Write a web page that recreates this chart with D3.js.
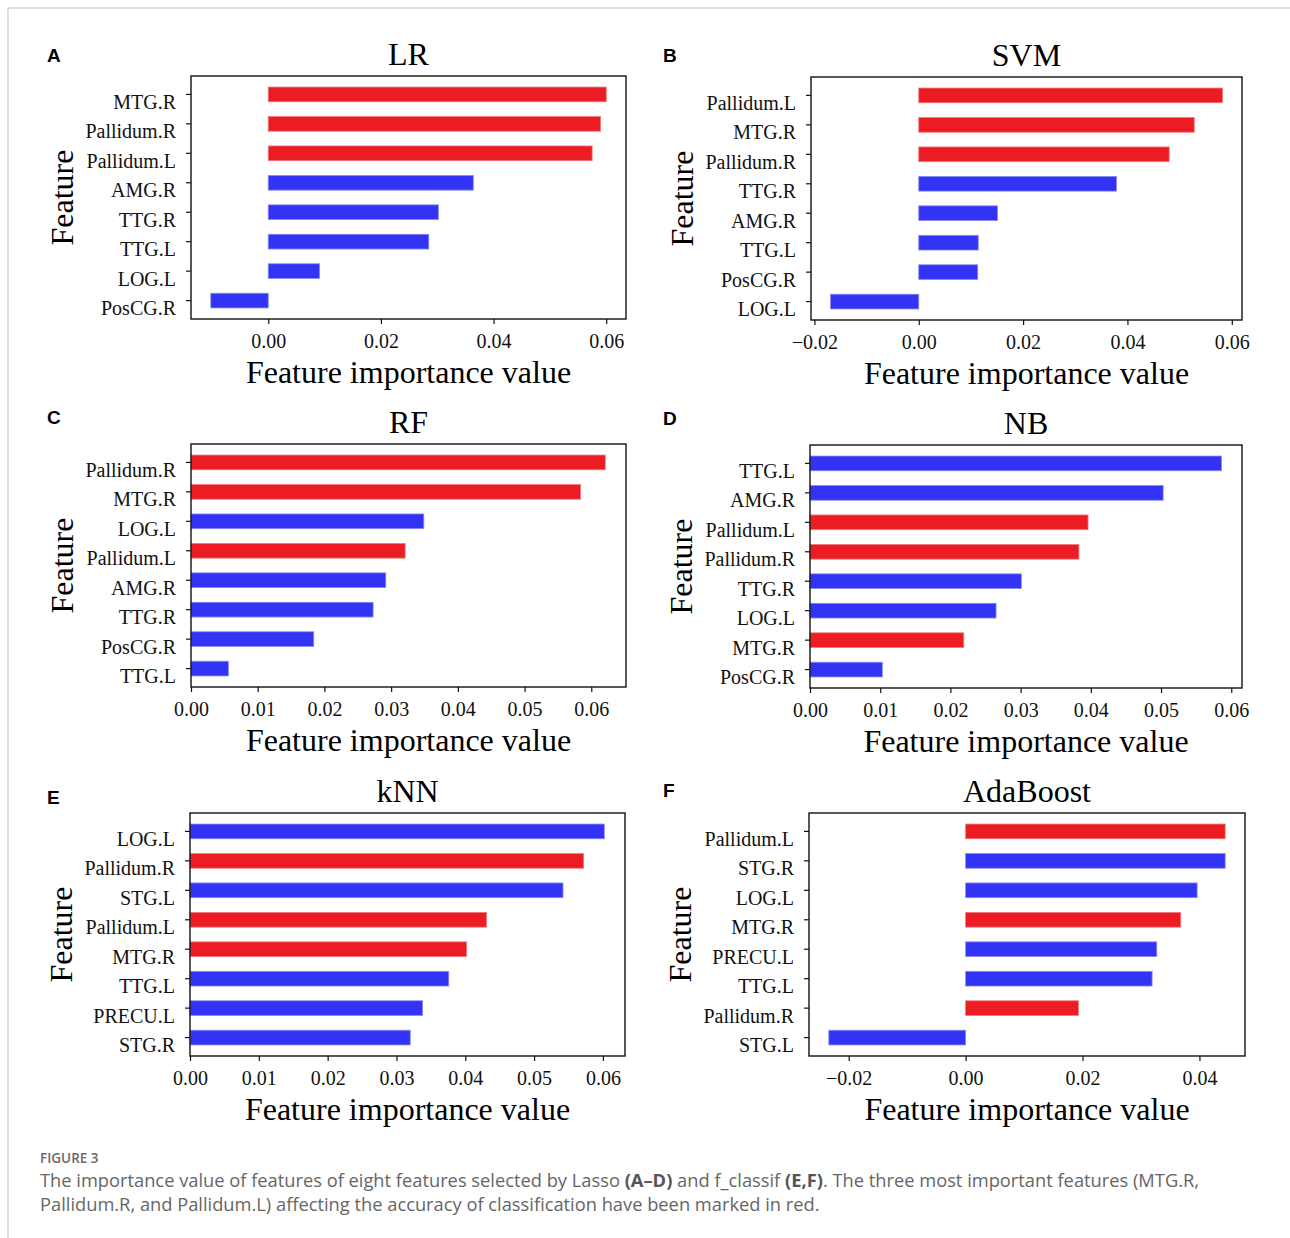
<!DOCTYPE html>
<html>
<head>
<meta charset="utf-8">
<script src="https://cdn.jsdelivr.net/npm/d3@7"></script>
<style>
  body { margin: 0; background: #fff; }
  svg text { font-family: "Liberation Serif", "Times New Roman", serif; }
</style>
</head>
<body>
<div id="chart"></div>
<script>
// feature names (top to bottom) and importance values for each model
var lrFeatures = ["MTG.R", "Pallidum.R", "Pallidum.L", "AMG.R", "TTG.R", "TTG.L", "LOG.L", "PosCG.R"];
var lrValues = [0.0600, 0.0590, 0.0575, 0.0364, 0.0302, 0.0285, 0.0091, -0.0102];
var lrTicks = [0, 0.02, 0.04, 0.06];

var svmFeatures = ["Pallidum.L", "MTG.R", "Pallidum.R", "TTG.R", "AMG.R", "TTG.L", "PosCG.R", "LOG.L"];
var svmValues = [0.0582, 0.0528, 0.0480, 0.0379, 0.0151, 0.0114, 0.0113, -0.0169];
var svmTicks = [-0.02, 0, 0.02, 0.04, 0.06];

var rfFeatures = ["Pallidum.R", "MTG.R", "LOG.L", "Pallidum.L", "AMG.R", "TTG.R", "PosCG.R", "TTG.L"];
var rfValues = [0.0621, 0.0584, 0.0349, 0.0321, 0.0292, 0.0273, 0.0184, 0.0056];
var rfTicks = [0, 0.01, 0.02, 0.03, 0.04, 0.05, 0.06];

var nbFeatures = ["TTG.L", "AMG.R", "Pallidum.L", "Pallidum.R", "TTG.R", "LOG.L", "MTG.R", "PosCG.R"];
var nbValues = [0.0586, 0.0503, 0.0396, 0.0383, 0.0301, 0.0265, 0.0219, 0.0103];
var nbTicks = [0, 0.01, 0.02, 0.03, 0.04, 0.05, 0.06];

var knnFeatures = ["LOG.L", "Pallidum.R", "STG.L", "Pallidum.L", "MTG.R", "TTG.L", "PRECU.L", "STG.R"];
var knnValues = [0.0602, 0.0572, 0.0542, 0.0431, 0.0402, 0.0376, 0.0338, 0.0320];
var knnTicks = [0, 0.01, 0.02, 0.03, 0.04, 0.05, 0.06];

var adaFeatures = ["Pallidum.L", "STG.R", "LOG.L", "MTG.R", "PRECU.L", "TTG.L", "Pallidum.R", "STG.L"];
var adaValues = [0.0444, 0.0444, 0.0396, 0.0368, 0.0327, 0.0319, 0.0193, -0.0234];
var adaTicks = [-0.02, 0, 0.02, 0.04];

var redFeatures = ["MTG.R", "Pallidum.R", "Pallidum.L"];

var panels = [
  {letter: "A", title: "LR", features: lrFeatures, values: lrValues, ticks: lrTicks, x: 191, y: 76, w: 435, lx: 47, ly: 62},
  {letter: "B", title: "SVM", features: svmFeatures, values: svmValues, ticks: svmTicks, x: 811, y: 77, w: 431, lx: 663, ly: 62},
  {letter: "C", title: "RF", features: rfFeatures, values: rfValues, ticks: rfTicks, x: 191, y: 444, w: 435, lx: 47, ly: 424},
  {letter: "D", title: "NB", features: nbFeatures, values: nbValues, ticks: nbTicks, x: 810, y: 445, w: 432, lx: 663, ly: 425},
  {letter: "E", title: "kNN", features: knnFeatures, values: knnValues, ticks: knnTicks, x: 190, y: 813, w: 435, lx: 47, ly: 804},
  {letter: "F", title: "AdaBoost", features: adaFeatures, values: adaValues, ticks: adaTicks, x: 809, y: 813, w: 436, lx: 663, ly: 797}
];
var plotH = 243;

var svg = d3.select("#chart").append("svg")
  .attr("width", 1290)
  .attr("height", 1238);

// page frame lines
svg.append("line").attr("x1", 8).attr("x2", 1290).attr("y1", 8).attr("y2", 8)
  .attr("stroke", "#d4d4d4").attr("stroke-width", 1.5);
svg.append("line").attr("x1", 8).attr("x2", 8).attr("y1", 8).attr("y2", 1238)
  .attr("stroke", "#d4d4d4").attr("stroke-width", 1.5);

panels.forEach(function(p) {
  // matplotlib-like limits: 5% margin, sticky at zero
  var lo = Math.min(0, d3.min(p.values));
  var hi = d3.max(p.values);
  var pad = (hi - lo) * 0.05;
  var x = d3.scaleLinear()
    .domain([lo < 0 ? lo - pad : 0, hi + pad])
    .range([0, p.w]);
  var y = d3.scaleBand()
    .domain(p.features)
    .range([0, plotH])
    .paddingInner(0.5)
    .paddingOuter(0.375);

  svg.append("text")
    .attr("x", p.lx).attr("y", p.ly)
    .style("font-family", "'Liberation Sans', Arial, sans-serif")
    .style("font-weight", "bold")
    .style("font-size", "19px")
    .text(p.letter);

  var g = svg.append("g").attr("transform", "translate(" + p.x + "," + p.y + ")");

  g.append("text")
    .attr("x", p.w / 2).attr("y", -11)
    .attr("text-anchor", "middle")
    .style("font-size", "32px")
    .text(p.title);

  g.selectAll("rect.bar")
    .data(p.values)
    .enter()
    .append("rect")
    .attr("class", "bar")
    .attr("x", function(d) { return x(Math.min(0, d)); })
    .attr("y", function(d, i) { return y(p.features[i]); })
    .attr("width", function(d) { return Math.abs(x(d) - x(0)); })
    .attr("height", y.bandwidth())
    .attr("fill", function(d, i) { return redFeatures.indexOf(p.features[i]) >= 0 ? "#ec1c24" : "#3333f6"; })
    .attr("stroke", function(d, i) { return redFeatures.indexOf(p.features[i]) >= 0 ? "#f07a7e" : "#8a8af2"; })
    .attr("stroke-width", 0.8);

  var xAxis = g.append("g")
    .attr("transform", "translate(0," + plotH + ")")
    .call(d3.axisBottom(x).tickValues(p.ticks).tickFormat(d3.format(".2f")).tickSize(5).tickPadding(10));
  xAxis.select(".domain").remove();
  xAxis.selectAll("text").style("font-size", "20px").style("font-family", "'Liberation Serif', serif").attr("fill", "#111");
  xAxis.selectAll("line").attr("stroke", "#111").attr("stroke-width", 1.2);

  var yAxis = g.append("g")
    .call(d3.axisLeft(y).tickSize(5).tickPadding(10));
  yAxis.select(".domain").remove();
  yAxis.selectAll("text").style("font-size", "20px").style("font-family", "'Liberation Serif', serif")
    .attr("fill", "#111").attr("dy", 14.5);
  yAxis.selectAll("line").attr("stroke", "#111").attr("stroke-width", 1.2);

  g.append("rect")
    .attr("width", p.w).attr("height", plotH)
    .attr("fill", "none")
    .attr("stroke", "#111")
    .attr("stroke-width", 1.4);

  g.append("text")
    .attr("x", p.w / 2).attr("y", plotH + 64)
    .attr("text-anchor", "middle")
    .style("font-size", "32px")
    .text("Feature importance value");

  g.append("text")
    .attr("transform", "translate(-118," + plotH / 2 + ") rotate(-90)")
    .attr("text-anchor", "middle")
    .style("font-size", "32px")
    .text("Feature");
});

// caption
var cap = svg.append("g").style("fill", "#666");
cap.append("text")
  .attr("x", 40).attr("y", 1163)
  .style("font-family", "'Open Sans', sans-serif")
  .style("font-size", "13.5px")
  .style("font-weight", "600")
  .style("fill", "#6a6a6a")
  .text("FIGURE 3");

var line1 = cap.append("text").attr("x", 40).attr("y", 1187)
  .style("font-family", "'Open Sans', sans-serif").style("font-size", "16px");
line1.append("tspan").text("The importance value of features of eight features selected by Lasso ");
line1.append("tspan").style("font-weight", "bold").style("fill", "#555").text("(A\u2013D)");
line1.append("tspan").text(" and f_classif ");
line1.append("tspan").style("font-weight", "bold").style("fill", "#555").text("(E,F)");
line1.append("tspan").text(". The three most important features (MTG.R,");

var line2 = cap.append("text").attr("x", 40).attr("y", 1211)
  .style("font-family", "'Open Sans', sans-serif").style("font-size", "16px")
  .text("Pallidum.R, and Pallidum.L) affecting the accuracy of classification have been marked in red.");

// fit caption width to the reference line length
var w1 = line1.node().getComputedTextLength();
var fs = 16 * 1160 / w1;
line1.style("font-size", fs + "px");
line2.style("font-size", fs + "px");
</script>
</body>
</html>
